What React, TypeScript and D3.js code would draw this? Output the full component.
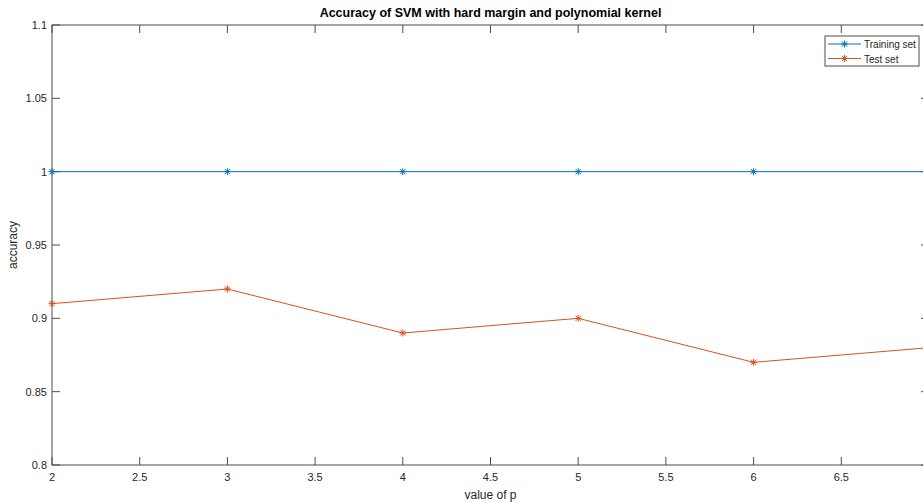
import React, { useEffect, useRef } from "react";
import * as d3 from "d3";

const pValues = [2, 3, 4, 5, 6, 7];
const trainingAcc = [1, 1, 1, 1, 1, 1];
const testAcc = [0.91, 0.92, 0.89, 0.9, 0.87, 0.88];
const xTicks = [2, 2.5, 3, 3.5, 4, 4.5, 5, 5.5, 6, 6.5, 7];
const yTicks = [0.8, 0.85, 0.9, 0.95, 1, 1.05, 1.1];

const BLUE = "#0072BD";
const ORANGE = "#D95319";
const AXIS = "#4d4d4d";
const TEXT = "#262626";
const FONT = "Liberation Sans, Arial, Helvetica, sans-serif";

const App: React.FC = () => {
  const svgRef = useRef<SVGSVGElement>(null);

  useEffect(() => {
    if (!svgRef.current) return;
    d3.select(svgRef.current).selectAll("*").remove();

    const svg = d3.select(svgRef.current);
    const left = 52;
    const right = 929; // the axes run past the picture's right edge
    const top = 25;
    const bottom = 465;

    const x = d3.scaleLinear().domain([2, 7]).range([left, right]);
    const y = d3.scaleLinear().domain([0.8, 1.1]).range([bottom, top]);

    svg.append("rect").attr("width", 923).attr("height", 503).attr("fill", "#fff");

    const tickLen = 8;
    const g = svg.append("g");

    // inward ticks on all four sides
    xTicks.forEach((t) => {
      const px = x(t);
      g.append("line").attr("x1", px).attr("x2", px).attr("y1", bottom).attr("y2", bottom - tickLen).attr("stroke", AXIS);
      g.append("line").attr("x1", px).attr("x2", px).attr("y1", top).attr("y2", top + tickLen).attr("stroke", AXIS);
      // the last label falls outside the visible picture
      if (px > 915) return;
      g.append("text")
        .attr("x", px)
        .attr("y", bottom + 16)
        .attr("text-anchor", "middle")
        .attr("fill", TEXT)
        .style("font-family", FONT)
        .style("font-size", "11px")
        .text(String(t));
    });
    yTicks.forEach((t) => {
      const py = y(t);
      g.append("line").attr("x1", left).attr("x2", left + tickLen).attr("y1", py).attr("y2", py).attr("stroke", AXIS);
      g.append("line").attr("x1", right).attr("x2", right - tickLen).attr("y1", py).attr("y2", py).attr("stroke", AXIS);
      g.append("text")
        .attr("x", left - 5)
        .attr("y", py + 4)
        .attr("text-anchor", "end")
        .attr("fill", TEXT)
        .style("font-family", FONT)
        .style("font-size", "11px")
        .text(String(t));
    });

    g.append("rect")
      .attr("x", left)
      .attr("y", top)
      .attr("width", right - left)
      .attr("height", bottom - top)
      .attr("fill", "none")
      .attr("stroke", AXIS);

    const line = d3
      .line<number>()
      .x((_, i) => x(pValues[i]))
      .y((d) => y(d));

    const star = (sel: d3.Selection<SVGGElement, unknown, null, undefined>, cx: number, cy: number, color: string) => {
      const r = 3.5;
      const d = r * 0.75;
      const path = `M${cx - r},${cy}L${cx + r},${cy}M${cx},${cy - r}L${cx},${cy + r}M${cx - d},${cy - d}L${cx + d},${cy + d}M${cx - d},${cy + d}L${cx + d},${cy - d}`;
      sel.append("path").attr("d", path).attr("stroke", color).attr("stroke-width", 1).attr("fill", "none");
    };

    const series = [
      { values: trainingAcc, color: BLUE, name: "Training set" },
      { values: testAcc, color: ORANGE, name: "Test set" },
    ];

    series.forEach((s) => {
      const sg = svg.append("g");
      sg.append("path").attr("d", line(s.values)).attr("fill", "none").attr("stroke", s.color).attr("stroke-width", 1);
      s.values.forEach((v, i) => star(sg, x(pValues[i]), y(v), s.color));
    });

    // legend
    const lg = svg.append("g");
    lg.append("rect")
      .attr("x", 825)
      .attr("y", 36)
      .attr("width", 94)
      .attr("height", 30)
      .attr("fill", "#fff")
      .attr("stroke", AXIS);
    series.forEach((s, i) => {
      const ly = 44 + i * 14.5;
      lg.append("line").attr("x1", 828).attr("x2", 861).attr("y1", ly).attr("y2", ly).attr("stroke", s.color);
      star(lg, 844.5, ly, s.color);
      lg.append("text")
        .attr("x", 864)
        .attr("y", ly + 4)
        .attr("fill", TEXT)
        .style("font-family", FONT)
        .style("font-size", "10px")
        .text(s.name);
    });

    // title and labels
    svg.append("text")
      .attr("x", (left + right) / 2)
      .attr("y", 17)
      .attr("text-anchor", "middle")
      .attr("fill", "#000")
      .style("font-family", FONT)
      .style("font-size", "12.5px")
      .style("font-weight", "bold")
      .text("Accuracy of SVM with hard margin and polynomial kernel");

    svg.append("text")
      .attr("x", (left + right) / 2)
      .attr("y", 499)
      .attr("text-anchor", "middle")
      .attr("fill", TEXT)
      .style("font-family", FONT)
      .style("font-size", "12px")
      .text("value of p");

    svg.append("text")
      .attr("transform", `translate(17,${(top + bottom) / 2}) rotate(-90)`)
      .attr("text-anchor", "middle")
      .attr("fill", TEXT)
      .style("font-family", FONT)
      .style("font-size", "12px")
      .text("accuracy");
  }, []);

  return (
    <div>
      <svg
        ref={svgRef}
        width={923}
        height={503}
        style={{ position: "absolute", left: 0, top: 0, display: "block" }}
      ></svg>
    </div>
  );
};

export default App;
